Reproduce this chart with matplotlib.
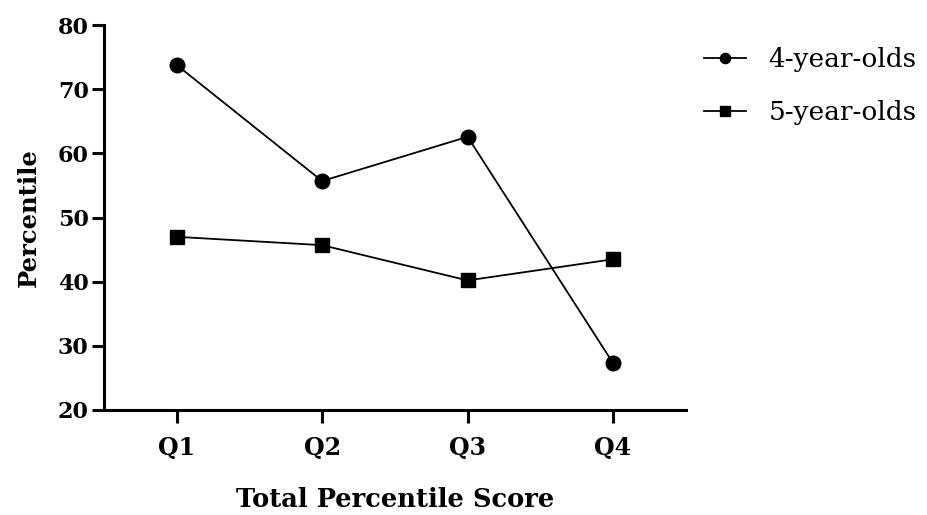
import matplotlib
matplotlib.use("Agg")
from matplotlib import pyplot as plt

quarters = ["Q1", "Q2", "Q3", "Q4"]
four_year = [73.8, 55.7, 62.6, 27.3]
five_year = [47.0, 45.7, 40.2, 43.5]
yticks = [20, 30, 40, 50, 60, 70, 80]

plt.rcParams['font.family'] = ['DejaVu Serif']

fig = plt.figure(figsize=(9.28, 5.15), dpi=100)
ax = fig.add_axes([0.112, 0.204, 0.627, 0.747])

x = range(1, len(quarters) + 1)
ax.plot(x, four_year, color='black', lw=1.3, marker='o', ms=10.5, label='4-year-olds')
ax.plot(x, five_year, color='black', lw=1.3, marker='s', ms=10.5, label='5-year-olds')

ax.set_xlim(0.5, 4.5)
ax.set_ylim(20, 80)
ax.set_xticks(list(x))
ax.set_xticklabels(quarters)
ax.set_yticks(yticks)

for s in ['top', 'right']:
    ax.spines[s].set_visible(False)
for s in ['left', 'bottom']:
    ax.spines[s].set_linewidth(2.2)
ax.tick_params(width=2.2, length=9, pad=2)
ax.tick_params(axis='y', labelsize=16)
ax.tick_params(axis='x', labelsize=17, pad=10)
for t in ax.get_xticklabels() + ax.get_yticklabels():
    t.set_fontweight('bold')

ax.set_xlabel('Total Percentile Score', fontsize=18.5, fontweight='bold', labelpad=19)
ax.set_ylabel('Percentile', fontsize=17.5, fontweight='bold', labelpad=12)

ax.legend(loc='upper left', bbox_to_anchor=(0.99, 1.005), frameon=False, fontsize=19,
          handlelength=1.6, handletextpad=0.85, labelspacing=1.05, markerscale=0.7)

plt.savefig('out.png', dpi=100)
